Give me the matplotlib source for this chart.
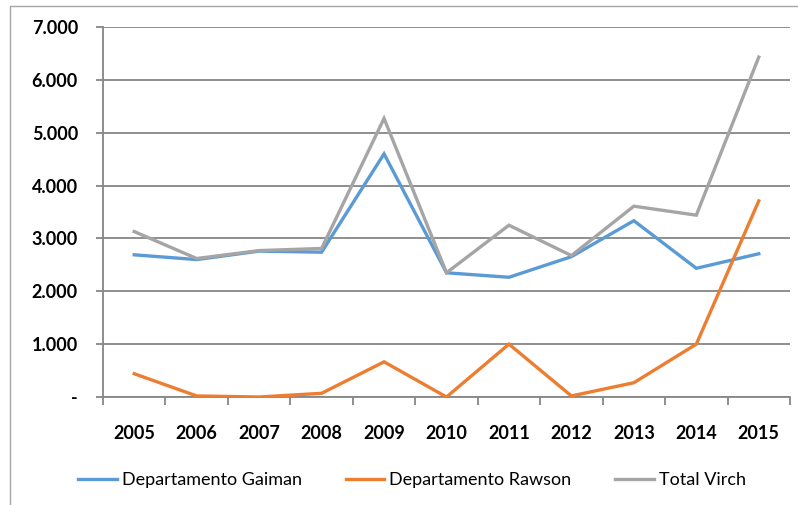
import numpy as np
import matplotlib.pyplot as plt
from matplotlib.patches import Rectangle
from matplotlib.lines import Line2D

# datos
years = ['2005', '2006', '2007', '2008', '2009', '2010', '2011', '2012', '2013', '2014', '2015']
gaiman = [2690, 2600, 2760, 2740, 4600, 2350, 2265, 2655, 3335, 2435, 2710]
rawson = [440, 20, 0, 70, 665, 0, 1000, 20, 270, 1000, 3710]
total = [3130, 2620, 2770, 2810, 5270, 2350, 3250, 2675, 3610, 3440, 6430]
yticks = [0, 1000, 2000, 3000, 4000, 5000, 6000, 7000]
ylabels = ['-', '1.000', '2.000', '3.000', '4.000', '5.000', '6.000', '7.000']

names = ['Departamento Gaiman', 'Departamento Rawson', 'Total Virch']
colors = ['#5B9BD5', '#ED7D31', '#A5A5A5']

plt.rcParams['font.family'] = ['Lato', 'DejaVu Sans']

W, H = 798, 505
fig = plt.figure(figsize=(W / 100, H / 100), dpi=100)
ax = fig.add_axes([103 / W, 1 - 397 / H, (790 - 103) / W, (397 - 27) / H])

# marco exterior
fig.patches.append(Rectangle((10 / W, -0.1), 1.2, 1.1 - 6 / H, transform=fig.transFigure,
                             fill=False, edgecolor='#A6A6A6', linewidth=1))

x = np.arange(len(years))
for serie, c in zip([gaiman, rawson, total], colors):
    ax.plot(x, serie, color=c, linewidth=2.4, solid_joinstyle='miter', zorder=3)

ax.set_xlim(-0.5, len(years) - 0.5)
ax.set_ylim(0, 7000)
ax.set_yticks(yticks)
ax.set_yticklabels(ylabels, fontsize=13, fontweight='bold')
ax.set_xticks(x)
ax.set_xticklabels(years, fontsize=13, fontweight='bold')
ax.set_xticks(np.arange(-0.5, len(years)), minor=True)
ax.tick_params(axis='x', which='major', length=0, pad=20)
ax.tick_params(axis='x', which='minor', length=6, width=1.3, color='#868686', direction='out')
ax.tick_params(axis='y', length=5, width=1.3, color='#868686', pad=13)

ax.grid(axis='y', color='#868686', linewidth=1.3)
ax.set_axisbelow(True)
for s in ['top', 'right']:
    ax.spines[s].set_visible(False)
for s in ['left', 'bottom']:
    ax.spines[s].set_color('#868686')
    ax.spines[s].set_linewidth(1.3)

handles = [Line2D([], [], color=c, linewidth=2.4) for c in colors]
fig.legend(handles, names, loc='center', bbox_to_anchor=(412 / W, 1 - 480 / H), ncol=3,
           frameon=False, fontsize=13, handlelength=2.15, handletextpad=0.28, columnspacing=2.4)

fig.savefig('out.png', dpi=100)
